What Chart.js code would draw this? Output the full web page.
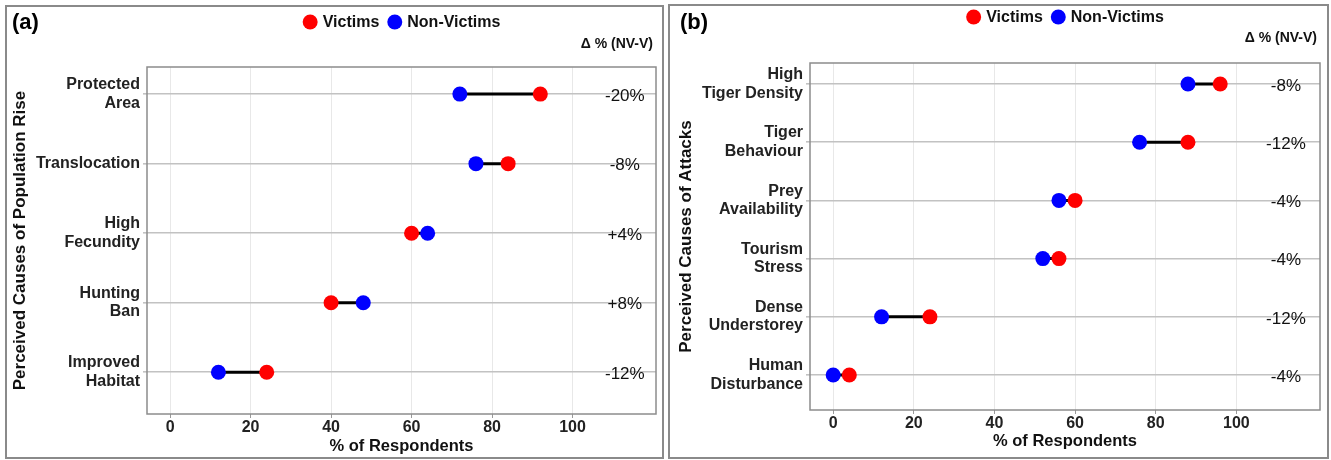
<!DOCTYPE html>
<html>
<head>
<meta charset="utf-8">
<script src="https://cdn.jsdelivr.net/npm/chart.js@4.4.1/dist/chart.umd.min.js"></script>
<style>
  body { margin: 0; background: #fff; width: 1331px; height: 460px; overflow: hidden; position: relative; }
  .panel { position: absolute; top: 0; height: 460px; }
</style>
</head>
<body>
<div class="panel" style="left:0;width:665px"><canvas id="graficoA"></canvas></div>
<div class="panel" style="left:665px;width:666px"><canvas id="graficoB"></canvas></div>
<script>
const FUENTE = "'Liberation Sans', Arial, sans-serif";

// panel (a) - population rise
const causasPoblacion = [["Protected", "Area"], "Translocation", ["High", "Fecundity"], ["Hunting", "Ban"], ["Improved", "Habitat"]];
const victimasPoblacion = [92, 84, 60, 40, 24];
const noVictimasPoblacion = [72, 76, 64, 48, 12];
const deltaPoblacion = ["-20%", "-8%", "+4%", "+8%", "-12%"];

// panel (b) - attacks
const causasAtaques = [["High", "Tiger Density"], ["Tiger", "Behaviour"], ["Prey", "Availability"], ["Tourism", "Stress"], ["Dense", "Understorey"], ["Human", "Disturbance"]];
const victimasAtaques = [96, 88, 60, 56, 24, 4];
const noVictimasAtaques = [88, 76, 56, 52, 12, 0];
const deltaAtaques = ["-8%", "-12%", "-4%", "-4%", "-12%", "-4%"];

const ticksX = [0, 20, 40, 60, 80, 100];

Chart.defaults.font.family = FUENTE;

function puntos(valores) {
  return valores.map((v, i) => ({ x: v, y: valores.length - i }));
}

function segmentos(victimas, noVictimas) {
  const datos = [];
  victimas.forEach((v, i) => {
    const fila = victimas.length - i;
    datos.push({ x: noVictimas[i], y: fila }, { x: v, y: fila }, { x: null, y: null });
  });
  return datos;
}

const adornos = {
  id: 'adornos',
  beforeDatasetsDraw(chart) {
    const { ctx, chartArea } = chart;
    ctx.save();
    ctx.strokeStyle = '#8c8c8c';
    ctx.lineWidth = 1.5;
    ctx.strokeRect(chartArea.left, chartArea.top, chartArea.right - chartArea.left, chartArea.bottom - chartArea.top);
    ctx.restore();
  },
  afterDraw(chart, args, op) {
    const { ctx, chartArea, scales } = chart;
    ctx.save();

    // marco del panel
    ctx.strokeStyle = '#8a8a8a';
    ctx.lineWidth = 2;
    ctx.strokeRect(op.marco[0], op.marco[1], op.marco[2], op.marco[3]);

    // letra del panel
    ctx.fillStyle = '#000';
    ctx.font = `bold 22px ${FUENTE}`;
    ctx.textBaseline = 'middle';
    ctx.textAlign = 'left';
    ctx.fillText(op.letra, op.letraX, 23);

    // leyenda
    const items = chart.data.datasets.filter(d => d.leyenda);
    ctx.font = `bold 16px ${FUENTE}`;
    const r = 7.5, sep = 5, hueco = 8;
    const anchos = items.map(d => ctx.measureText(d.label).width);
    let total = hueco * (items.length - 1);
    anchos.forEach(w => total += 2 * r + sep + w);
    let x = (chartArea.left + chartArea.right) / 2 - total / 2;
    items.forEach((d, i) => {
      ctx.fillStyle = d.backgroundColor;
      ctx.beginPath();
      ctx.arc(x + r, op.leyendaY, r, 0, Math.PI * 2);
      ctx.fill();
      ctx.fillStyle = '#111';
      ctx.fillText(d.label, x + 2 * r + sep, op.leyendaY + 1);
      x += 2 * r + sep + anchos[i] + hueco;
    });

    // cabecera delta
    ctx.font = `bold 14px ${FUENTE}`;
    ctx.textAlign = 'right';
    ctx.fillStyle = '#111';
    ctx.fillText('\u0394 % (NV-V)', chartArea.right - 3, op.cabeceraY);

    // etiquetas delta
    ctx.font = `17px ${FUENTE}`;
    ctx.textAlign = 'center';
    const n = op.delta.length;
    op.delta.forEach((t, i) => {
      ctx.fillText(t, scales.x.getPixelForValue(op.deltaX), scales.y.getPixelForValue(n - i) + 2);
    });
    ctx.restore();
  }
};

function crearGrafico(ctx, causas, victimas, noVictimas, delta, conf) {
  const n = causas.length;
  return new Chart(ctx, {
    type: 'scatter',
    data: {
      datasets: [
        {
          label: 'Victims',
          leyenda: true,
          data: puntos(victimas),
          backgroundColor: '#ff0000',
          borderWidth: 0,
          pointRadius: 7.5,
          order: 0
        },
        {
          label: 'Non-Victims',
          leyenda: true,
          data: puntos(noVictimas),
          backgroundColor: '#0000ff',
          borderWidth: 0,
          pointRadius: 7.5,
          order: 1
        },
        {
          label: 'diff',
          data: segmentos(victimas, noVictimas),
          showLine: true,
          spanGaps: false,
          borderColor: '#000',
          borderWidth: 3,
          pointRadius: 0,
          order: 2
        }
      ]
    },
    options: {
      responsive: true,
      maintainAspectRatio: false,
      animation: false,
      events: [],
      layout: { padding: { top: conf.arriba, right: conf.derecha, left: 0, bottom: 0 } },
      plugins: {
        legend: { display: false },
        tooltip: { enabled: false },
        adornos: {
          marco: conf.marco,
          letra: conf.letra,
          letraX: conf.letraX,
          leyendaY: conf.leyendaY,
          cabeceraY: conf.cabeceraY,
          deltaX: conf.deltaX,
          delta: delta
        }
      },
      scales: {
        x: {
          type: 'linear',
          min: -5.75,
          max: 120.75,
          afterBuildTicks: (s) => { s.ticks = ticksX.map(v => ({ value: v })); },
          afterFit: (s) => { s.height = conf.altoX; },
          ticks: { color: '#222', padding: 0, font: { size: 16, weight: 'bold' } },
          grid: { color: '#e8e8e8', lineWidth: 1, tickLength: 4, tickColor: '#9a9a9a' },
          border: { display: false },
          title: {
            display: true,
            text: '% of Respondents',
            color: '#111',
            font: { size: 16.5, weight: 'bold' },
            padding: { top: 0, bottom: conf.tituloX }
          }
        },
        y: {
          type: 'linear',
          min: 0.4,
          max: n + conf.margenY,
          afterBuildTicks: (s) => { s.ticks = causas.map((c, i) => ({ value: i + 1 })); },
          afterFit: (s) => { s.width = conf.anchoY; },
          ticks: {
            color: '#222',
            padding: 3,
            autoSkip: false,
            font: { size: 16, weight: 'bold', lineHeight: 1.15 },
            callback: (v) => causas[n - Math.round(v)]
          },
          grid: { color: '#c2c2c2', lineWidth: 1.6, tickLength: 4 },
          border: { display: false },
          title: {
            display: true,
            text: conf.tituloY,
            color: '#111',
            font: { size: 17, weight: 'bold' },
            padding: { top: conf.tituloYpad, bottom: 0 }
          }
        }
      }
    },
    plugins: [adornos]
  });
}

window.grafA = crearGrafico(document.getElementById("graficoA"), causasPoblacion, victimasPoblacion, noVictimasPoblacion, deltaPoblacion, {
  arriba: 67, derecha: 9, anchoY: 147, altoX: 46, margenY: 0.39,
  tituloX: 4, tituloY: 'Perceived Causes of Population Rise', tituloYpad: 10,
  marco: [6, 6, 657, 452], letra: '(a)', letraX: 12,
  leyendaY: 22, cabeceraY: 44, deltaX: 113
});

window.grafB = crearGrafico(document.getElementById("graficoB"), causasAtaques, victimasAtaques, noVictimasAtaques, deltaAtaques, {
  arriba: 63, derecha: 11, anchoY: 145, altoX: 50, margenY: 0.36,
  tituloX: 9, tituloY: 'Perceived Causes of Attacks', tituloYpad: 11,
  marco: [4, 5, 659, 453], letra: '(b)', letraX: 15,
  leyendaY: 17, cabeceraY: 38, deltaX: 112.3
});
</script>
</body>
</html>
